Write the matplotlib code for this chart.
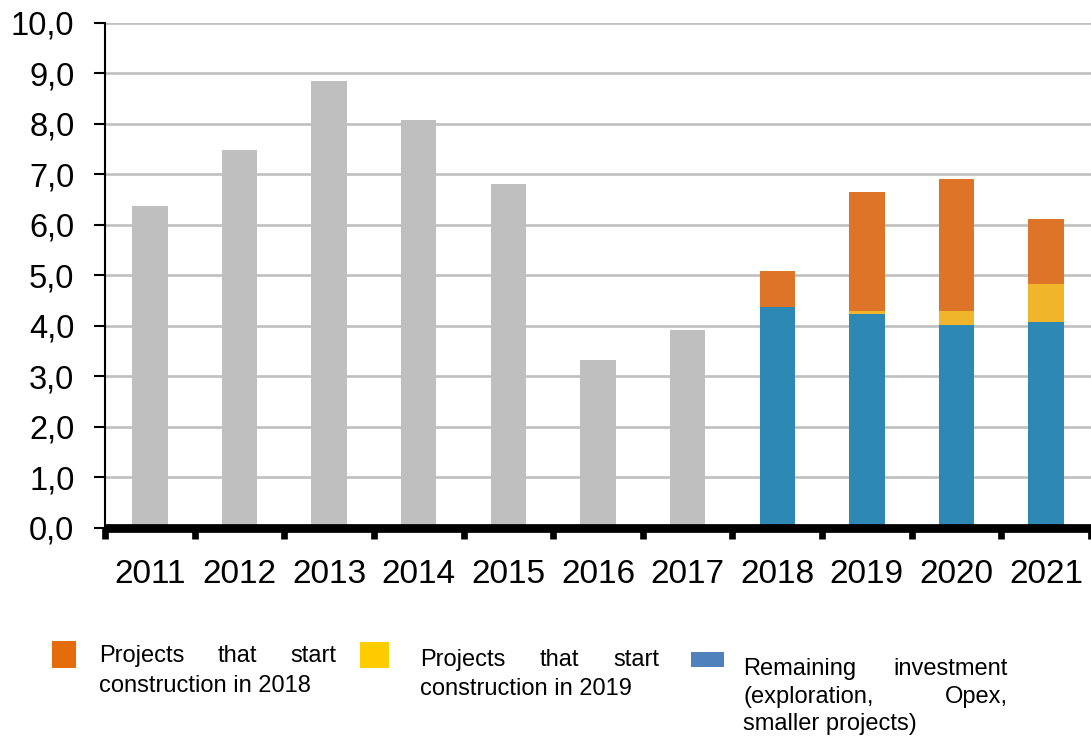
import matplotlib
matplotlib.use("Agg")
import matplotlib.pyplot as plt
from matplotlib.patches import Rectangle
from matplotlib.ticker import FixedLocator, FuncFormatter, NullFormatter

# ---- data -------------------------------------------------------------
years = ["2011", "2012", "2013", "2014", "2015", "2016", "2017",
         "2018", "2019", "2020", "2021"]
historic_years = ["2011", "2012", "2013", "2014", "2015", "2016", "2017"]
historic = [6.37, 7.49, 8.85, 8.07, 6.81, 3.33, 3.92]

forecast_years = ["2018", "2019", "2020", "2021"]
remaining = [4.37, 4.23, 4.02, 4.08]
start_2019 = [0.00, 0.06, 0.28, 0.74]
start_2018 = [0.71, 2.35, 2.60, 1.30]

y_ticks = [0, 1, 2, 3, 4, 5, 6, 7, 8, 9, 10]

legend_lines = [
    ["Projects that start", "construction in 2018"],
    ["Projects that start", "construction in 2019"],
    ["Remaining investment", "(exploration, Opex,", "smaller projects)"],
]

# ---- style ------------------------------------------------------------
FONT = "Liberation Sans"
GREY = "#BFBFBF"
C_BLUE = "#2E88B4"
C_YELLOW = "#F0B52A"
C_ORANGE = "#DE7428"
L_ORANGE = "#E46C0A"
L_YELLOW = "#FFCC00"
L_BLUE = "#4F81BD"

W, H = 1091, 738
fig = plt.figure(figsize=(W / 100, H / 100), dpi=100)
fig.patch.set_facecolor("white")


def fx(px):
    return px / W


def fy(py):
    return 1 - py / H


ax = fig.add_axes([fx(105), fy(527.8), fx(W - 105), (527.8 - 22.8) / H])

pos = {y: i for i, y in enumerate(years)}
bw = 0.395

ax.bar([pos[y] for y in historic_years], historic, width=bw,
       color=GREY, zorder=3)

fpos = [pos[y] for y in forecast_years]
ax.bar(fpos, remaining, width=bw, color=C_BLUE, zorder=3)
ax.bar(fpos, start_2019, width=bw, bottom=remaining, color=C_YELLOW, zorder=3)
base2 = [a + b for a, b in zip(remaining, start_2019)]
ax.bar(fpos, start_2018, width=bw, bottom=base2, color=C_ORANGE, zorder=3)

ax.set_xlim(-0.5, len(years) - 0.5)
ax.set_ylim(0, 10)

# y axis
ax.yaxis.set_major_locator(FixedLocator(y_ticks))
ax.yaxis.set_major_formatter(
    FuncFormatter(lambda v, p: f"{v:.1f}".replace(".", ",")))
ax.tick_params(axis="y", which="major", direction="out", length=8,
               width=1.5, color="black", pad=14, labelsize=23.5)
for lab in ax.get_yticklabels():
    lab.set_fontfamily(FONT)
ax.yaxis.grid(True, color=GREY, linewidth=1.9, zorder=0)
ax.set_axisbelow(True)

# x axis: labels at bar centres, thick ticks at category boundaries
ax.set_xticks(range(len(years)))
ax.set_xticklabels(years, fontfamily=FONT, fontsize=24)
ax.tick_params(axis="x", which="major", length=0, pad=22.5)
ax.xaxis.set_minor_locator(FixedLocator(
    [i - 0.5 for i in range(len(years) + 1)]))
ax.xaxis.set_minor_formatter(NullFormatter())
ax.tick_params(axis="x", which="minor", direction="out", length=7.6,
               width=4.8, color="black")

for side in ("top", "right"):
    ax.spines[side].set_visible(False)
ax.spines["left"].set_linewidth(1.5)
ax.spines["bottom"].set_linewidth(6.3)
ax.spines["bottom"].set_zorder(5)
ax.spines["bottom"].set_capstyle("butt")

# ---- legend (justified text blocks) ----------------------------------
renderer = fig.canvas.get_renderer()
text_kw = dict(fontfamily=FONT, fontsize=17, color="black")


def justified(lines, x0, x1, baselines):
    for k, line in enumerate(lines):
        y = baselines[k]
        words = line.split()
        if k == len(lines) - 1 or len(words) == 1:
            fig.text(fx(x0), fy(y), line, ha="left", va="baseline", **text_kw)
            continue
        widths = []
        for w in words:
            t = fig.text(0, 0, w, **text_kw)
            widths.append(t.get_window_extent(renderer).width)
            t.remove()
        gap = (x1 - x0 - sum(widths)) / (len(words) - 1)
        x = x0
        for w, wd in zip(words, widths):
            fig.text(fx(x), fy(y), w, ha="left", va="baseline", **text_kw)
            x += wd + gap


legend_items = [
    (L_ORANGE, (52.3, 641, 76, 667.7), 99.3, 336.7, [661.7, 691.7]),
    (L_YELLOW, (360, 642.3, 389, 667.7), 420, 659.3, [666, 695]),
    (L_BLUE, (691, 652.3, 724, 667.3), 743.3, 1008, [675, 703, 730]),
]
for (color, (a, b, c, d), x0, x1, bl), lines in zip(legend_items,
                                                    legend_lines):
    fig.patches.append(Rectangle((fx(a), fy(d)), fx(c - a), (d - b) / H,
                                 transform=fig.transFigure,
                                 facecolor=color, edgecolor="none"))
    justified(lines, x0, x1, bl)

fig.savefig("out.png", dpi=100, facecolor="white")
